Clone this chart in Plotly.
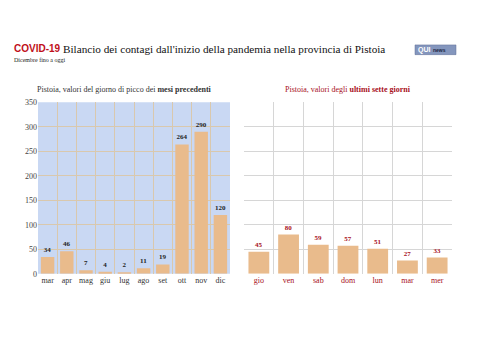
import plotly.graph_objects as go

# Peak day per month
mesi = ["mar", "apr", "mag", "giu", "lug", "ago", "set", "ott", "nov", "dic"]
picco_mesi = [34, 46, 7, 4, 2, 11, 19, 264, 290, 120]

# Last seven days
giorni = ["gio", "ven", "sab", "dom", "lun", "mar", "mer"]
valori_giorni = [45, 80, 59, 57, 51, 27, 33]

y_ticks = [0, 50, 100, 150, 200, 250, 300, 350]

W, H = 487, 344
SERIF = "Liberation Serif"
SANS = "Liberation Sans"
BAR = "#e9bb8c"
RED = "#a8101c"

fig = go.Figure()

fig.add_trace(go.Bar(
    x=mesi, y=picco_mesi, xaxis="x", yaxis="y",
    marker=dict(color=BAR, line=dict(width=0)),
    text=[str(v) for v in picco_mesi], textposition="outside",
    texttemplate="<b>%{text}</b>",
    textfont=dict(family=SERIF, size=7, color="#222222"),
    cliponaxis=False, showlegend=False, hoverinfo="x+y",
))
fig.add_trace(go.Bar(
    x=giorni, y=valori_giorni, xaxis="x2", yaxis="y2",
    marker=dict(color=BAR, line=dict(width=0)),
    text=[str(v) for v in valori_giorni], textposition="outside",
    texttemplate="<b>%{text}</b>",
    textfont=dict(family=SERIF, size=7, color=RED),
    cliponaxis=False, showlegend=False, hoverinfo="x+y",
))

ydom = [1 - 277 / H, 1 - 101 / H]
common_x = dict(
    type="category", tickson="boundaries", showgrid=True, ticks="",
    tickangle=0, showline=False, zeroline=False, fixedrange=True,
)
common_y = dict(
    range=[0, 350], tickvals=y_ticks, showgrid=True, zeroline=False,
    showline=False, ticks="", fixedrange=True,
)

fig.update_layout(
    width=W, height=H,
    margin=dict(l=0, r=0, t=0, b=0),
    paper_bgcolor="white", plot_bgcolor="rgba(0,0,0,0)",
    bargap=0.3,
    font=dict(family=SERIF, color="#333333"),
    xaxis=dict(common_x, domain=[38 / W, 230 / W], anchor="y",
               gridcolor="#d9c8ad", gridwidth=1,
               tickfont=dict(family=SERIF, size=8, color="#333333")),
    yaxis=dict(common_y, domain=ydom, anchor="x", gridcolor="#d9c8ad",
               tickfont=dict(family=SERIF, size=8, color="#444444"),
               showticklabels=True),
    xaxis2=dict(common_x, domain=[244 / W, 452 / W], anchor="y2",
                gridcolor="#d6d6d6",
                tickfont=dict(family=SERIF, size=8, color=RED)),
    yaxis2=dict(common_y, domain=ydom, anchor="x2", gridcolor="#d6d6d6",
                showticklabels=False),
)

# Light blue panel behind the monthly chart
fig.add_shape(type="rect", xref="x domain", yref="y domain",
              x0=0, x1=1, y0=0, y1=1, layer="below",
              fillcolor="#c9d8f3", line=dict(width=0))

# Logo badge
fig.add_shape(type="rect", xref="paper", yref="paper",
              x0=415 / W, x1=456 / W, y0=1 - 52 / H, y1=1 - 42 / H,
              fillcolor="#8496bd", line=dict(color="#5e6f96", width=0.5))


def note(x, y, text, family, size, color, anchor="left"):
    return dict(x=x / W, y=1 - y / H, xref="paper", yref="paper",
                xanchor=anchor, yanchor="middle", showarrow=False,
                text=text, font=dict(family=family, size=size, color=color))


annotations = [
    note(12, 46, "<b>COVID-19</b>", SANS, 10, "#c0101a"),
    note(61, 46, "Bilancio dei contagi dall'inizio della pandemia nella provincia di Pistoia",
         SERIF, 11.2, "#111111"),
    note(12, 58, "Dicembre fino a oggi", SERIF, 6, "#222222"),
    note(416, 47, "<b>QUI</b>", SANS, 7, "white"),
    note(431, 47.5, "<b>news</b>", SANS, 5, "#1c2440"),
    note(125, 88, "Pistoia, valori del giorno di picco dei <b>mesi precedenti</b>",
         SERIF, 8, "#333333", "center"),
    note(348, 88, "Pistoia, valori degli <b>ultimi sette giorni</b>",
         SERIF, 8, RED, "center"),
]
fig.update_layout(annotations=annotations)

fig.write_html("out.html", include_plotlyjs=True, config={"displayModeBar": False})
